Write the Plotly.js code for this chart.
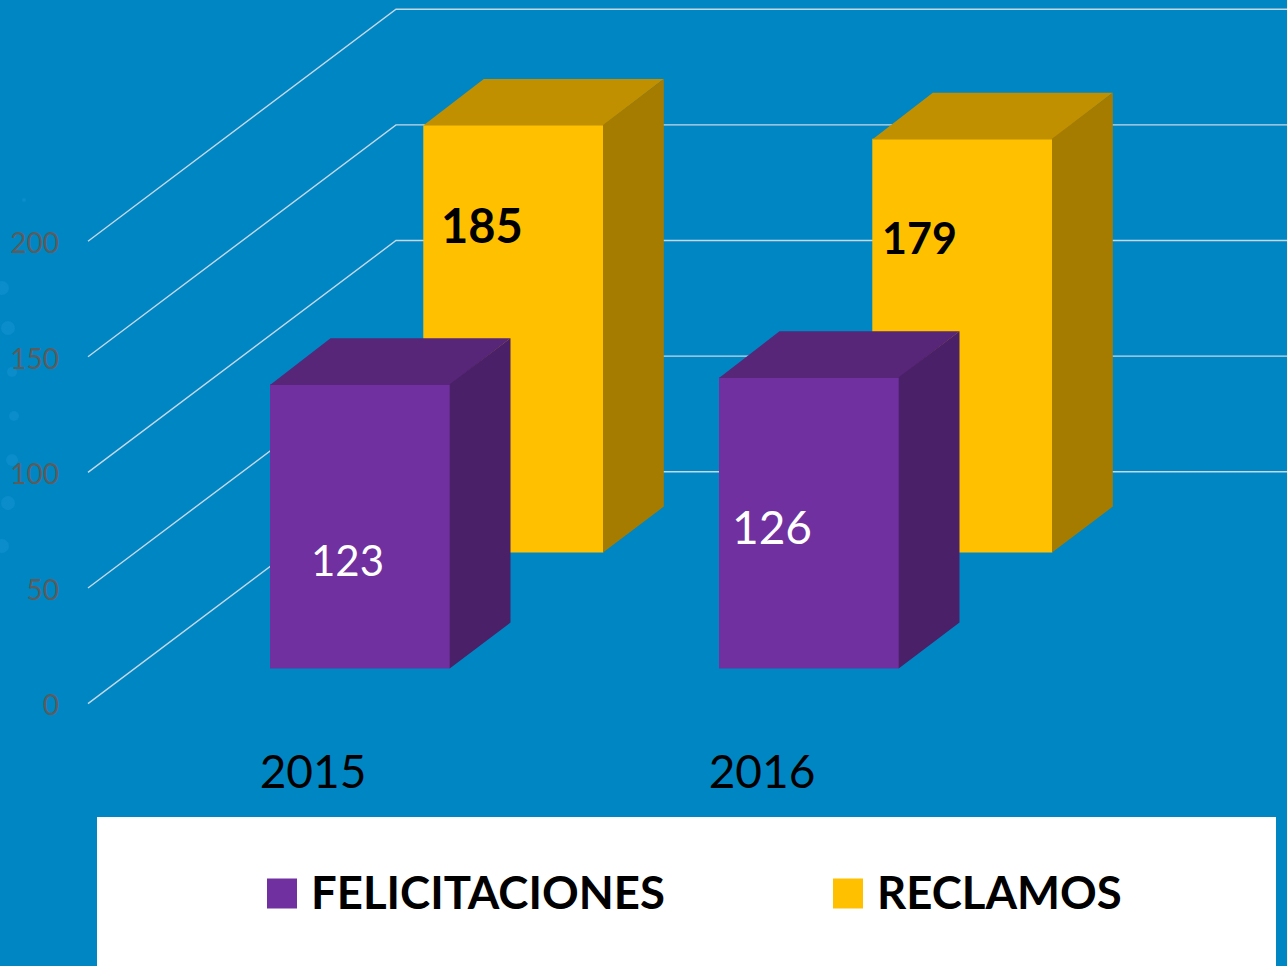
<!DOCTYPE html>
<html><head><meta charset="utf-8">
<script src="https://cdn.plot.ly/plotly-3.0.1.min.js"></script>
<style>html,body{margin:0;padding:0;background:#0186c4;overflow:hidden}</style>
</head><body><div id="chart" style="width:1287px;height:966px"></div>
<script>
// ---- data ----
const categories = ['2015', '2016'];
const felicitaciones = [123, 126];
const reclamos = [185, 179];
const yTicks = [0, 50, 100, 150, 200];
const seriesNames = ['FELICITACIONES', 'RECLAMOS'];

// ---- 3D projection settings ----
const W = 1287, H = 966, zeroPx = 703.6, pxPerUnit = 2.312;
const catX = [313, 762];
const barW = 180, depthX = 60.5, depthV = 46 / pxPerUnit, seam = 0.3;
const wallX0 = 88, wallX1 = 396, wallRise = 100.3;
const felOffset = 47, recOffset = 200.3;
const felFloor = 35 / pxPerUnit, recFloor = 151 / pxPerUnit;
const valFromPx = p => (zeroPx - p) / pxPerUnit;

function faces(centers, values, base, topColor, sideColor, ax) {
  const tx = [], ty = [], sx = [], sy = [];
  centers.forEach((c, i) => {
    const l = c - barW / 2, r = c + barW / 2, t = base + values[i];
    tx.push(l, l + depthX, r + depthX, r, l, null);
    ty.push(t - seam, t + depthV, t + depthV, t - seam, t - seam, null);
    sx.push(r - seam, r + depthX, r + depthX, r - seam, r - seam, null);
    sy.push(base, base + depthV, t + depthV, t, base, null);
  });
  const mk = (x, y, c) => ({type:'scatter', mode:'none', x, y, fill:'toself', fillcolor:c,
    showlegend:false, hoverinfo:'skip', xaxis:'x'+ax, yaxis:'y'+ax});
  return [mk(tx, ty, topColor), mk(sx, sy, sideColor)];
}

const gx = [], gy = [];
yTicks.forEach(v => { gx.push(wallX0, wallX1, W, null); gy.push(v, v + wallRise, v + wallRise, null); });

const felCenters = catX.map(c => c + felOffset);
const recCenters = catX.map(c => c + recOffset);

const traces = [
  {type:'scatter', mode:'lines', x:gx, y:gy, line:{color:'#c4d9e6', width:1.4}, showlegend:false, hoverinfo:'skip'},
  {type:'bar', name:seriesNames[1], legend:'legend2', x:recCenters, y:reclamos, base:recFloor, width:barW,
   marker:{color:'#FFC000'}, xaxis:'x2', yaxis:'y2'},
  ...faces(recCenters, reclamos, recFloor, '#C09000', '#A57C00', '2'),
  {type:'bar', name:seriesNames[0], legend:'legend', x:felCenters, y:felicitaciones, base:felFloor, width:barW,
   marker:{color:'#7030A0'}, xaxis:'x3', yaxis:'y3'},
  ...faces(felCenters, felicitaciones, felFloor, '#572679', '#4A2068', '3')
];

const xr = [0, W], yr = [valFromPx(H), valFromPx(0)];
const hiddenX = {range:xr, overlaying:'x', visible:false, fixedrange:true};
const hiddenY = {range:yr, overlaying:'y', visible:false, fixedrange:true};
const FONT = 'Lato, "Open Sans", sans-serif';

const label = (x, y, text, size, color, bold) => ({x, y, xref:'x', yref:'y', text: bold ? '<b>'+text+'</b>' : text,
  showarrow:false, font:{family:FONT, size, color}, xanchor:'center', yanchor:'middle'});
const legendBox = x => ({orientation:'v', x:x/W, xanchor:'left', y:1-892/H, yanchor:'middle', bgcolor:'rgba(0,0,0,0)',
  font:{family:FONT,size:45.5,color:'#000',weight:700}, itemwidth:40, itemclick:false, itemdoubleclick:false});

const decor = [[2,288,7],[8,328,7],[12,372,5],[14,416,5],[12,460,6],[8,503,7],[2,546,7],[24,200,2]];

const layout = {
  width:W, height:H, margin:{l:0,r:0,t:0,b:0},
  paper_bgcolor:'#0186c4', plot_bgcolor:'rgba(0,0,0,0)',
  barmode:'overlay', showlegend:true, font:{family:FONT},
  xaxis:{range:xr, domain:[0,1], anchor:'free', position:1-741/H, tickmode:'array', tickvals:catX, ticktext:categories,
    showgrid:false, zeroline:false, showline:false, ticks:'', fixedrange:true, tickfont:{family:FONT,size:46,color:'#000'}},
  yaxis:{range:yr, domain:[0,1], anchor:'free', position:59/W, tickmode:'array', tickvals:yTicks, ticklabelshift:2,
    showgrid:false, zeroline:false, showline:false, ticks:'', fixedrange:true, tickfont:{family:FONT,size:28,color:'#5c5c5c'}},
  xaxis2:hiddenX, yaxis2:hiddenY, xaxis3:hiddenX, yaxis3:hiddenY,
  legend:legendBox(261), legend2:legendBox(827),
  annotations:[
    label(recCenters[0]-31, valFromPx(224.5), reclamos[0], 47, '#000', true),
    label(recCenters[1]-42.5, valFromPx(237), reclamos[1], 43, '#000', true),
    label(felCenters[0]-13, valFromPx(560), felicitaciones[0], 42, '#fff', false),
    label(felCenters[1]-37.5, valFromPx(526), felicitaciones[1], 46, '#fff', false)
  ],
  shapes:[
    {type:'rect', layer:'below', xref:'x', yref:'paper', x0:97, x1:1276, y0:0, y1:1-817/H, fillcolor:'#fff', line:{width:0}},
    ...decor.map(d => ({type:'circle', layer:'below', xref:'x', yref:'y', x0:d[0]-d[2], x1:d[0]+d[2],
      y0:valFromPx(d[1]+d[2]), y1:valFromPx(d[1]-d[2]), fillcolor:'#0a8dca', line:{width:0}}))
  ]
};

Plotly.newPlot('chart', traces, layout, {displayModeBar:false, staticPlot:true}).then(gd => {
  gd.querySelectorAll('.legendpoints path').forEach(p => {
    const b = p.getBBox();
    p.setAttribute('transform', 'translate(21,2) scale(' + (30 / b.width) + ',' + (30 / b.height) + ')');
  });
});
</script></body></html>
